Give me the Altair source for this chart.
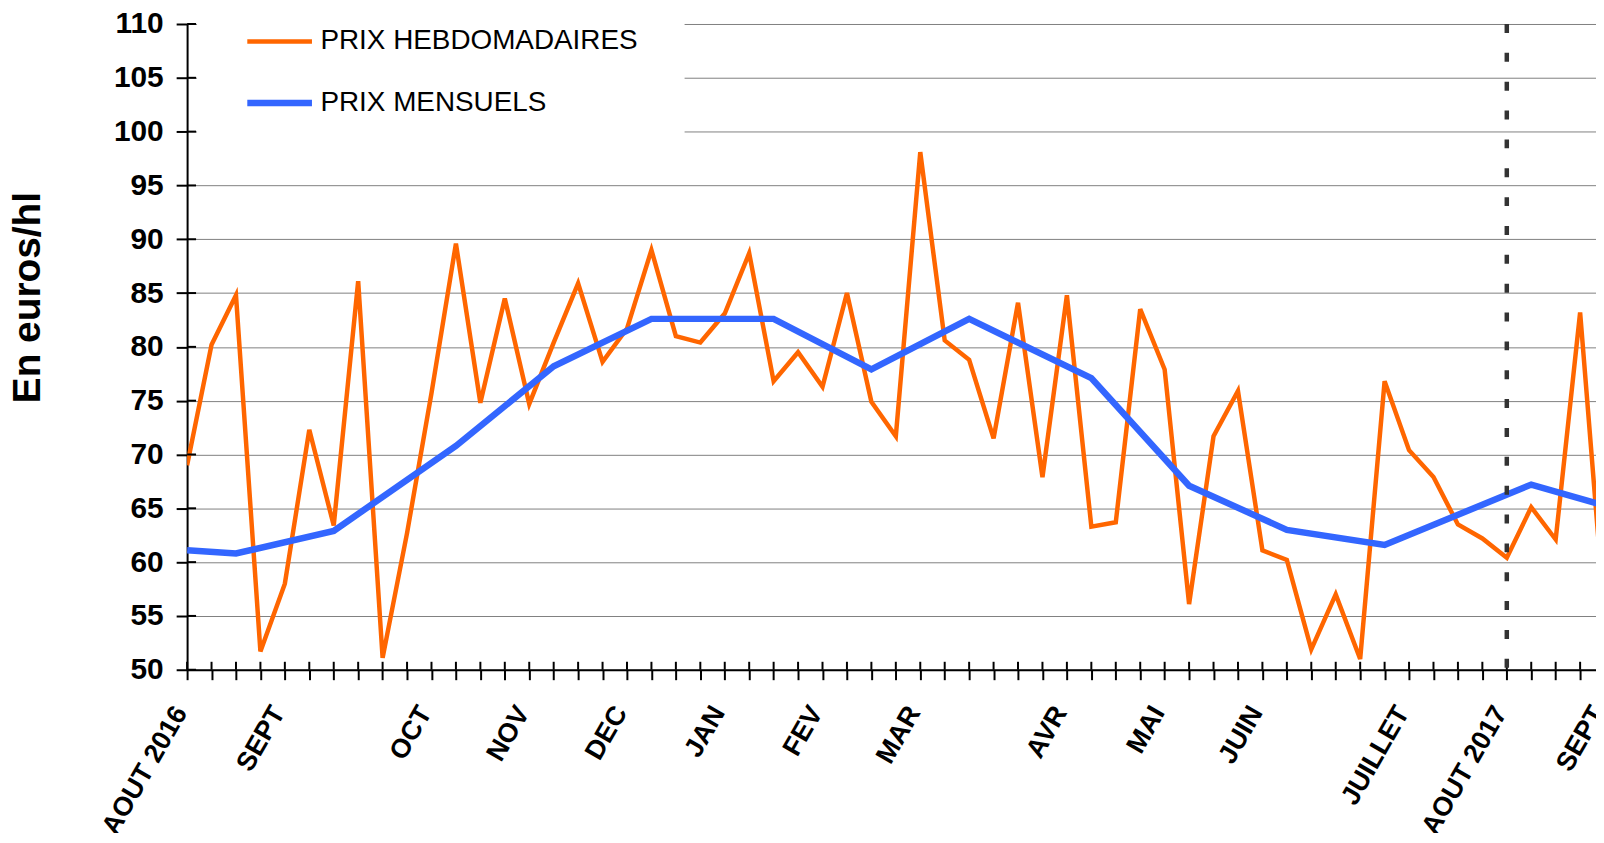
import altair as alt
import pandas as pd

# ---- data ----
series_names = ["PRIX HEBDOMADAIRES", "PRIX MENSUELS"]

weekly_prices = [69.0, 80.2, 84.8, 51.7, 58.0, 72.3, 63.4, 86.1, 51.1, 62.7,
                 75.7, 89.6, 74.8, 84.5, 74.7, 80.4, 85.9, 78.6, 81.7, 89.0,
                 81.0, 80.4, 83.1, 88.7, 76.8, 79.5, 76.3, 85.0, 74.9, 71.7,
                 98.1, 80.6, 78.8, 71.5, 84.1, 67.9, 84.8, 63.3, 63.7, 83.5,
                 77.9, 56.1, 71.7, 75.9, 61.1, 60.2, 51.9, 57.0, 51.0, 76.8,
                 70.4, 67.9, 63.5, 62.2, 60.4, 65.1, 62.1, 83.2, 55.0]

monthly_weeks = [0, 2, 6, 11, 15, 19, 24, 28, 32, 37, 41, 45, 49, 55, 59]
monthly_prices = [61.1, 60.8, 62.9, 70.8, 78.2, 82.6, 82.6, 77.9, 82.6, 77.1,
                  67.1, 63.0, 61.6, 67.2, 64.6]

month_weeks = [0, 4, 10, 14, 18, 22, 26, 30, 36, 40, 44, 50, 54, 58]
month_labels = ["AOUT 2016", "SEPT", "OCT", "NOV", "DEC", "JAN", "FEV", "MAR",
                "AVR", "MAI", "JUIN", "JUILLET", "AOUT 2017", "SEPT"]

week_ticks = list(range(58))
y_ticks = list(range(50, 111, 5))
marker_week = [54]

# ---- tables ----
rows = [{"semaine": i, "prix": v, "serie": series_names[0]}
        for i, v in enumerate(weekly_prices)]
rows += [{"semaine": w, "prix": v, "serie": series_names[1]}
         for w, v in zip(monthly_weeks, monthly_prices)]
lines_df = pd.DataFrame(rows)
labels_df = pd.DataFrame({"semaine": month_weeks, "mois": month_labels})
xticks_df = pd.DataFrame({"semaine": week_ticks})
yticks_df = pd.DataFrame({"prix": y_ticks})
marker_df = pd.DataFrame({"semaine": marker_week})

W, H = 1416, 649
FONT = "Liberation Sans"
xscale = alt.Scale(domain=[0, 57.65], nice=False, zero=False)
yscale = alt.Scale(domain=[50, 110], nice=False, zero=False)

x_axis = alt.Axis(values=week_ticks, labels=False, title=None,
                  tickSize=10, tickWidth=2, tickColor="black",
                  domainColor="black", domainWidth=2, grid=False)
y_axis = alt.Axis(values=y_ticks, title="En euros/hl",
                  titleX=-160, titleY=274.5, titleAngle=270,
                  titleAlign="center", titleBaseline="middle",
                  titleFont=FONT, titleFontSize=39,
                  titleFontWeight="bold", titleColor="black",
                  labelFont=FONT, labelFontSize=30,
                  labelFontWeight="bold", labelColor="black",
                  labelPadding=13, labelFlush=False, labelOverlap=False,
                  tickSize=11, tickWidth=2, tickColor="black",
                  domainColor="black", domainWidth=2,
                  grid=True, gridColor="#808080", gridWidth=1)

x_enc = alt.X("semaine:Q", scale=xscale, axis=x_axis, title=None)
y_enc = alt.Y("prix:Q", scale=yscale, axis=y_axis, title="En euros/hl")

legend = alt.Legend(
    title=None, orient="none", legendX=10, legendY=-45, direction="vertical",
    symbolType="stroke", symbolSize=4225, clipHeight=31, rowPadding=31,
    labelFont=FONT, labelFontSize=28, labelColor="black",
    labelOffset=5, labelLimit=500, padding=47, fillColor="white",
)

lines = alt.Chart(lines_df).mark_line(clip=True).encode(
    x=x_enc,
    y=y_enc,
    color=alt.Color("serie:N",
                    scale=alt.Scale(domain=series_names, range=["#FF6600", "#3366FF"]),
                    legend=legend),
    strokeWidth=alt.StrokeWidth("serie:N",
                                scale=alt.Scale(domain=series_names, range=[4.5, 6.5]),
                                legend=legend),
)

xticks_in = alt.Chart(xticks_df).mark_rule(color="black", strokeWidth=2).encode(
    x=x_enc,
    y=alt.value(H - 8), y2=alt.value(H),
)

yticks_in = alt.Chart(yticks_df).mark_rule(color="black", strokeWidth=2).encode(
    y=y_enc,
    x=alt.value(0), x2=alt.value(9),
)

marker = alt.Chart(marker_df).mark_rule(
    color="#333333", strokeWidth=4.5, strokeDash=[9, 20]
).encode(x=x_enc)

month_text = alt.Chart(labels_df).mark_text(
    angle=300, align="right", baseline="middle", font=FONT,
    fontSize=27, fontWeight="bold", color="black", dx=-3, dy=-5.2,
).encode(
    x=x_enc,
    y=alt.value(H + 39),
    text="mois:N",
)

chart = alt.layer(lines, xticks_in, yticks_in, marker, month_text).properties(
    width=W, height=H,
    autosize=alt.AutoSizeParams(type="none"),
    padding={"left": 180, "top": 14, "right": 0, "bottom": 162},
    background="white",
).configure_view(stroke=None)

chart.save("out.html", embed_options={"renderer": "svg", "actions": False})
